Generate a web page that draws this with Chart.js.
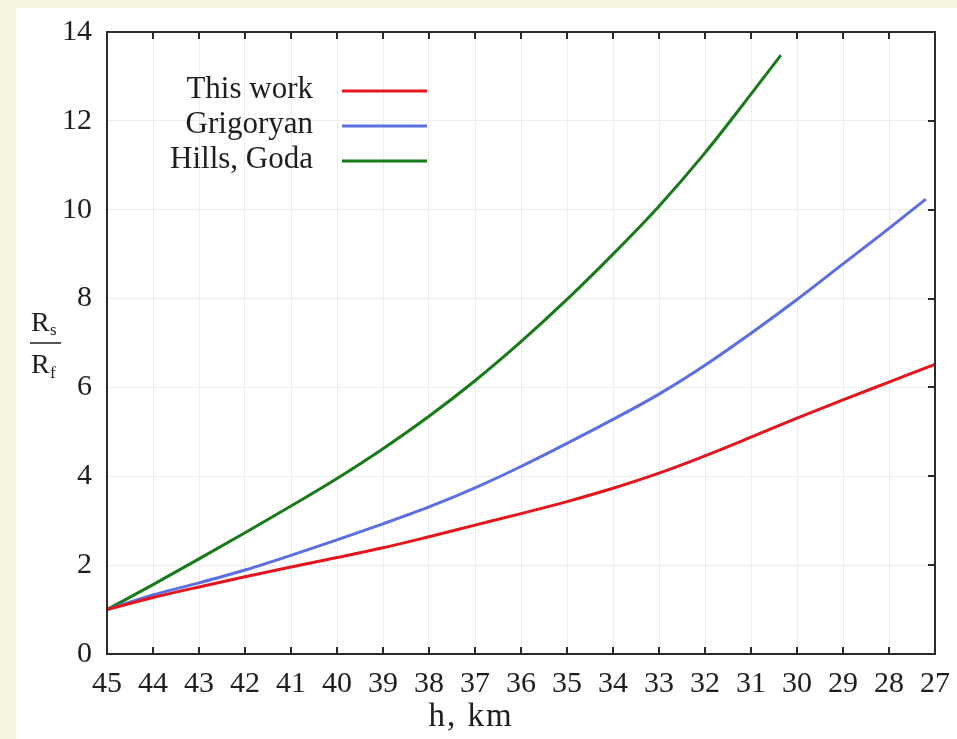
<!DOCTYPE html>
<html><head><meta charset="utf-8">
<script src="https://cdn.jsdelivr.net/npm/chart.js@4/dist/chart.umd.min.js"></script>
<style>html,body{margin:0;padding:0;background:#f7f4de;overflow:hidden;}#wrap{position:absolute;left:0;top:0;width:957px;height:739px;}</style>
</head><body><div id="wrap"><canvas id="c"></canvas></div>
<script>
// Data
const hThisWork = [45,44,43,42,41,40,39,38,37,36,35,34,33,32,31,30,29,28,27];
const thisWork  = [1.0,1.27,1.51,1.74,1.96,2.17,2.39,2.64,2.9,3.16,3.43,3.73,4.07,4.46,4.88,5.31,5.72,6.12,6.52];
const hGrigoryan = [45,44,43,42,41,40,39,38,37,36,35,34,33,32,31,30,29,28,27.2];
const grigoryan  = [1.0,1.33,1.6,1.89,2.22,2.57,2.93,3.31,3.74,4.22,4.74,5.28,5.85,6.5,7.22,7.98,8.78,9.58,10.24];
const hHillsGoda = [45,44,43,42,41,40,39,38,37,36,35,34,33,32,31,30.35];
const hillsGoda  = [1.0,1.56,2.14,2.73,3.33,3.95,4.62,5.35,6.15,7.03,7.98,9.0,10.08,11.28,12.6,13.48];
const seriesLabels = ['This work','Grigoryan','Hills, Goda'];
const seriesColors = ['#e5151d','#5b6fe2','#187a19'];
const xTitle = 'h, km';

const toXY = (hs, vs) => hs.map((h,i)=>({x:h,y:vs[i]}));
const FONT = '"Liberation Serif", "Times New Roman", serif';

const deco = {
  id:'deco',
  beforeDraw(chart){
    const ctx = chart.ctx;
    ctx.save();
    ctx.fillStyle = '#f7f4de'; ctx.fillRect(0,0,chart.width,chart.height);
    ctx.fillStyle = '#ffffff'; ctx.fillRect(16,8,chart.width-16,chart.height-8);
    ctx.restore();
  },
  afterDraw(chart){
    const ctx = chart.ctx, a = chart.chartArea;
    const xs = chart.scales.x, ys = chart.scales.y;
    ctx.save();
    ctx.strokeStyle = '#2b2b2b'; ctx.lineWidth = 2;
    ctx.strokeRect(a.left, a.top, a.right-a.left, a.bottom-a.top);
    ctx.beginPath();
    xs.ticks.forEach(t=>{
      const px = Math.round(xs.getPixelForValue(t.value));
      ctx.moveTo(px, a.bottom); ctx.lineTo(px, a.bottom-7);
      ctx.moveTo(px, a.top); ctx.lineTo(px, a.top+7);
    });
    ys.ticks.forEach(t=>{
      const py = Math.round(ys.getPixelForValue(t.value));
      ctx.moveTo(a.right, py); ctx.lineTo(a.right-7, py);
    });
    ctx.stroke();
    // legend
    ctx.font = '31px ' + FONT;
    ctx.fillStyle = '#1e1e1e';
    ctx.textAlign = 'right'; ctx.textBaseline = 'middle';
    chart.data.datasets.forEach((ds,i)=>{
      const y = 90 + i*35;
      ctx.fillText(ds.label, 313, y);
      ctx.strokeStyle = ds.borderColor; ctx.lineWidth = 3;
      ctx.beginPath(); ctx.moveTo(342, y+1); ctx.lineTo(427, y+1); ctx.stroke();
    });
    // x title
    ctx.textAlign = 'center';
    ctx.font = '33px ' + FONT;
    try { ctx.letterSpacing = '2px'; } catch(e) {}
    ctx.fillText(xTitle, 471, 717);
    try { ctx.letterSpacing = '0px'; } catch(e) {}
    // y title (fraction)
    ctx.textAlign = 'left'; ctx.textBaseline = 'alphabetic';
    ctx.font = '28px ' + FONT;
    ctx.fillText('R', 31, 331);
    ctx.fillText('R', 31, 373);
    ctx.font = '17px ' + FONT;
    ctx.fillText('s', 50, 335);
    ctx.fillText('f', 50, 378);
    ctx.strokeStyle = '#1e1e1e'; ctx.lineWidth = 1.5;
    ctx.beginPath(); ctx.moveTo(30, 343); ctx.lineTo(61, 343); ctx.stroke();
    ctx.restore();
  }
};

new Chart(document.getElementById('c'), {
  type:'line',
  data:{ datasets:[
    {label:seriesLabels[0], data:toXY(hThisWork,thisWork), borderColor:seriesColors[0]},
    {label:seriesLabels[1], data:toXY(hGrigoryan,grigoryan), borderColor:seriesColors[1]},
    {label:seriesLabels[2], data:toXY(hHillsGoda,hillsGoda), borderColor:seriesColors[2]}
  ]},
  options:{
    responsive:true, maintainAspectRatio:false, animation:false,
    layout:{padding:{left:0,top:32,right:22,bottom:0}},
    elements:{ line:{borderWidth:3, cubicInterpolationMode:'monotone', fill:false}, point:{radius:0} },
    plugins:{ legend:{display:false}, tooltip:{enabled:false} },
    scales:{
      x:{ type:'linear', reverse:true, min:27, max:45,
        ticks:{stepSize:1, color:'#1e1e1e', font:{family:FONT, size:30}, padding:12, maxRotation:0, autoSkip:false},
        grid:{color:'#ececec', drawTicks:false}, border:{display:false},
        afterFit(s){ s.height = 85; s.paddingLeft = 0; s.paddingRight = 0; }
      },
      y:{ min:0, max:14,
        ticks:{stepSize:2, color:'#1e1e1e', font:{family:FONT, size:30}, padding:15},
        grid:{color:'#ececec', drawTicks:false}, border:{display:false},
        afterFit(s){ s.width = 107; s.paddingTop = 0; s.paddingBottom = 0; }
      }
    }
  },
  plugins:[deco]
});
</script>
</body></html>
